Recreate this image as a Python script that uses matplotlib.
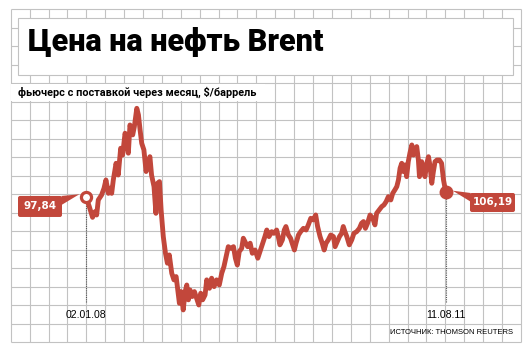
import matplotlib
matplotlib.use('Agg')
import matplotlib.pyplot as plt
import numpy as np
from matplotlib.patches import Rectangle, FancyBboxPatch, Polygon
from matplotlib.transforms import Affine2D

# дни от 02.01.08 и цена Brent ($/баррель)
days = [0, 12, 24, 33, 39, 45, 57, 66, 73, 82, 88, 94, 100, 110, 118, 127, 134,
        143, 149, 155, 161, 171, 177, 186, 192, 198, 204, 212, 220, 226, 234,
        240, 249, 256, 262, 269, 275, 283, 291, 298, 305, 314, 322, 330, 336,
        342, 348, 356, 363, 369, 375, 381, 389, 397, 405, 413, 420, 427, 436,
        442, 452, 460, 469, 478, 488, 497, 505, 513, 521, 530, 540, 547, 554,
        561, 570, 576, 585, 592, 601, 609, 619, 629, 637, 647, 655, 662, 670,
        680, 688, 698, 704, 710, 719, 726, 732, 741, 749, 757, 763, 769, 778,
        786, 796, 806, 814, 823, 832, 841, 848, 857, 865, 872, 879, 887, 896,
        906, 912, 920, 928, 936, 942, 948, 955, 964, 973, 981, 991, 1001, 1009,
        1016, 1023, 1031, 1040, 1050, 1058, 1064, 1073, 1083, 1091, 1099, 1107,
        1116, 1123, 1131, 1138, 1144, 1150, 1156, 1162, 1168, 1174, 1180, 1186,
        1193, 1199, 1205, 1211, 1217, 1221, 1229, 1236, 1241, 1248, 1254, 1260,
        1266, 1272, 1278, 1285, 1294, 1302, 1309, 1317]
prices = [97.84, 92.4, 86.5, 89.6, 87.8, 96.0, 98.7, 102.4, 106.9, 99.6, 102.4,
          99.6, 106.9, 116.0, 109.6, 124.2, 120.5, 132.4, 128.7, 121.5, 136.9,
          131.5, 136.0, 146.0, 142.4, 134.2, 126.9, 123.3, 111.5, 116.0, 119.6,
          109.6, 103.3, 88.7, 105.1, 106.0, 90.5, 76.0, 66.9, 61.5, 66.0, 56.0,
          52.4, 54.2, 46.9, 39.6, 46.0, 36.0, 46.0, 49.6, 41.5, 46.9, 43.3, 46.0,
          42.4, 38.7, 45.1, 41.5, 44.2, 52.4, 47.8, 53.3, 48.7, 52.4, 49.6, 56.0,
          59.6, 65.1, 70.5, 69.6, 70.5, 64.2, 60.5, 67.8, 69.6, 75.1, 72.4, 70.5,
          72.4, 66.9, 68.7, 64.2, 67.8, 72.4, 76.0, 79.6, 76.0, 78.7, 77.8, 79.6,
          76.0, 71.5, 74.2, 79.6, 81.5, 76.9, 75.1, 71.5, 68.7, 72.4, 76.9, 78.7,
          80.5, 79.6, 82.4, 86.0, 85.1, 87.8, 81.5, 76.0, 72.4, 68.7, 72.4, 74.2,
          76.9, 76.0, 70.5, 73.3, 76.0, 77.8, 81.5, 78.7, 76.0, 71.5, 74.2, 77.8,
          78.7, 80.5, 83.3, 84.2, 80.5, 83.3, 87.8, 86.0, 82.4, 88.7, 90.5, 92.4,
          93.3, 95.1, 97.8, 96.0, 99.6, 101.5, 103.3, 106.9, 113.3, 116.0, 111.5,
          115.1, 108.7, 116.9, 121.5, 126.0, 120.5, 123.3, 125.1, 117.8, 108.7,
          116.9, 112.4, 108.7, 116.0, 119.6, 114.2, 105.1, 111.5, 116.9, 117.8,
          117.8, 116.0, 106.9, 100.5]

start_date = '02.01.08'
end_date = '11.08.11'
start_value = '97,84'
end_value = '106,19'
title = 'Цена на нефть Brent'
subtitle = 'фьючерс с поставкой через месяц, $/баррель'
source = 'ИСТОЧНИК: THOMSON REUTERS'

red = '#c2473b'
grid_c = '#c2c2c2'
narrow = ['Liberation Sans', 'DejaVu Sans']
heavy = ['Roboto', 'Liberation Sans', 'DejaVu Sans']

fig = plt.figure(figsize=(5.3, 3.55), dpi=100)
r = fig.canvas.get_renderer()


def fit(t, width):
    # подгоняем кегль под нужную ширину в пикселях
    size = t.get_fontsize()
    t.set_fontsize(size * width / t.get_window_extent(r).width)


# фон: сетка в пикселях
bg = fig.add_axes([0, 0, 1, 1])
bg.set_xlim(0, 530)
bg.set_ylim(355, 0)
bg.axis('off')
gx = 10.7 + 18.9 * np.arange(28)
gy = 9 + 18.5 * np.arange(19)
bg.vlines(gx, gy[0], gy[-1], color=grid_c, lw=0.8, zorder=1)
bg.hlines(gy, gx[0], gx[-1], color=grid_c, lw=0.8, zorder=1)

# заголовок
bg.add_patch(Rectangle((18, 18), 495, 57, fc='white', ec=grid_c, lw=0.8, zorder=3))
t = bg.text(28, 51, title, fontsize=22, fontweight='black', family=heavy,
            va='baseline', ha='left', zorder=4)
fit(t, 295)

bg.add_patch(Rectangle((11.2, 83.6), 254, 17.4, fc='white', ec='none', zorder=3))
st = bg.text(18, 92.5, subtitle, fontsize=7, fontweight='bold', family=heavy,
             va='center', ha='left', zorder=4)
fit(st, 239)
bg.text(513, 333, source, fontsize=5.5, family=narrow, va='center',
        ha='right', zorder=4)

# линия цены
ax = fig.add_axes([0, 0, 1, 1])
ax.patch.set_alpha(0)
ax.axis('off')
ax.set_xlim(-314.9, 1625.7)
ax.set_ylim(11.41, 205.08)
ax.plot(days, prices, color=red, lw=3.5, solid_joinstyle='round',
        solid_capstyle='round', zorder=3)

for d, p in [(days[0], prices[0]), (days[-1], prices[-1])]:
    ax.vlines(d, 40.3, p, color='#555555', lw=0.8, linestyles=(0, (1, 1)), zorder=2)
ax.plot(days[0], prices[0], 'o', ms=7.3, mfc='white', mec=red, mew=2.3, zorder=4)
ax.plot(days[-1], prices[-1], 'o', ms=10, mfc=red, mec=red, mew=0, zorder=4)

tr_x = ax.get_xaxis_transform()
ax.text(days[0], 0.113, start_date, transform=tr_x, ha='center', va='center',
        fontsize=7.6, family=narrow)
ax.text(days[-1], 0.113, end_date, transform=tr_x, ha='center', va='center',
        fontsize=7.6, family=narrow)


def tag(x, y, text, box, tail):
    px, py = ax.transData.transform((x, y))
    tr = Affine2D().translate(px, py)
    bx, by, bw, bh = box
    ax.add_patch(FancyBboxPatch((bx, by), bw, bh, boxstyle='round,pad=0,rounding_size=2',
                                fc=red, ec='none', transform=tr, clip_on=False, zorder=5))
    ax.add_patch(Polygon(tail, closed=True, fc=red, ec='none', transform=tr,
                         clip_on=False, zorder=5))
    ax.text(bx + bw / 2, by + bh / 2, text, transform=tr, color='white',
            fontsize=7.5, fontweight='bold', ha='center', va='center', zorder=6)


tag(days[0], prices[0], start_value, (-68, -20.4, 44, 21),
    [(-24.5, 0.6), (-24.5, -8.4), (-6.7, 2.3)])
tag(days[-1], prices[-1], end_value, (24.3, -20.3, 45, 19),
    [(7, 1), (25, -1.3), (25, -10)])

fig.savefig('out.png', dpi=100)
